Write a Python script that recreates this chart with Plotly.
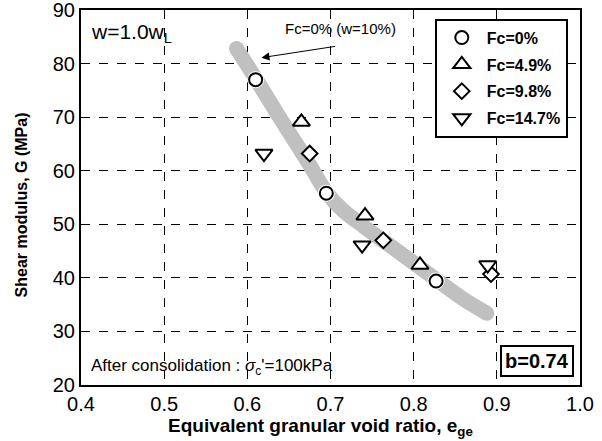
import plotly.graph_objects as go

# Data
fc0_x = [0.610, 0.695, 0.827]
fc0_y = [77.0, 55.8, 39.4]
fc49_x = [0.665, 0.7415, 0.8076]
fc49_y = [69.1, 51.6, 42.4]
fc98_x = [0.675, 0.7635, 0.893]
fc98_y = [63.2, 47.0, 40.7]
fc147_x = [0.620, 0.738, 0.889]
fc147_y = [63.2, 46.1, 42.4]

curve_x = [0.587, 0.610, 0.641, 0.673, 0.695, 0.715, 0.740, 0.770, 0.800, 0.827, 0.860, 0.888]
curve_y = [82.8, 77.2, 69.4, 61.6, 56.0, 52.6, 49.6, 46.2, 42.8, 39.7, 36.0, 33.4]

x_ticks = [0.4, 0.5, 0.6, 0.7, 0.8, 0.9, 1.0]
x_ticktext = ["0.4", "0.5", "0.6", "0.7", "0.8", "0.9", "1.0"]
y_ticks = [20, 30, 40, 50, 60, 70, 80, 90]

GRAY = "#c0c0c0"
FONT = "Liberation Sans, Arial, sans-serif"

fig = go.Figure()

# gray trend band
fig.add_trace(go.Scatter(x=curve_x, y=curve_y, mode="lines",
                         line=dict(color=GRAY, width=15, shape="spline", smoothing=0.8),
                         showlegend=False, hoverinfo="skip"))
fig.add_trace(go.Scatter(x=[curve_x[0], curve_x[-1]], y=[curve_y[0], curve_y[-1]], mode="markers",
                         marker=dict(color=GRAY, size=15, line=dict(width=0)),
                         showlegend=False, hoverinfo="skip"))
# white halo for circles
fig.add_trace(go.Scatter(x=fc0_x, y=fc0_y, mode="markers",
                         marker=dict(color="white", size=17, line=dict(width=0)),
                         showlegend=False, hoverinfo="skip"))

mk_line = dict(color="black", width=2)
series = [
    ("Fc=0%", fc0_x, fc0_y, "circle", 13),
    ("Fc=4.9%", fc49_x, fc49_y, "triangle-up", 15),
    ("Fc=9.8%", fc98_x, fc98_y, "diamond", 12),
    ("Fc=14.7%", fc147_x, fc147_y, "triangle-down", 15),
]
for i, (name, xs, ys, sym, sz) in enumerate(series):
    fig.add_trace(go.Scatter(x=xs, y=ys, mode="markers", name=name,
                             legendgroup=f"g{i}",
                             marker=dict(symbol=sym, size=sz, color="white", line=mk_line)))

fig.add_annotation(x=0.617, y=81.1, ax=0.7074, ay=83.25, xref="x", yref="y",
                   axref="x", ayref="y", showarrow=True, arrowhead=2, arrowsize=1.6,
                   arrowwidth=1, arrowcolor="black", text="")
fig.add_annotation(x=0.712, y=86.6, xref="x", yref="y", showarrow=False,
                   text="Fc=0% (w=10%)", font=dict(family=FONT, size=15, color="black"))
fig.add_annotation(x=0.41, y=85.8, xref="x", yref="y", xanchor="left", showarrow=False,
                   text="w=1.0w<sub>L</sub>", font=dict(family=FONT, size=21, color="black"))
fig.add_annotation(x=0.41, y=23.4, xref="x", yref="y", xanchor="left", showarrow=False,
                   text="After consolidation : <i>σ</i><sub>c</sub>'=100kPa",
                   font=dict(family=FONT, size=17, color="black"))
fig.add_annotation(x=0.9925, y=24.4, xref="x", yref="y", xanchor="right", showarrow=False,
                   text="<b>b=0.74</b>", bordercolor="black", borderwidth=2, borderpad=3,
                   bgcolor="white", font=dict(family=FONT, size=20, color="black"))

# axis titles
fig.add_annotation(x=0.479, y=-0.112, xref="paper", yref="paper", showarrow=False,
                   xanchor="center", yanchor="middle",
                   text="<b>Equivalent granular void ratio, e<sub>ge</sub></b>",
                   font=dict(family=FONT, size=19, color="black"))
fig.add_annotation(x=-0.1202, y=0.479, xref="paper", yref="paper", showarrow=False,
                   xanchor="center", yanchor="middle",
                   textangle=-90, text="<b>Shear modulus, G (MPa)</b>",
                   font=dict(family=FONT, size=16, color="black"))

fig.update_layout(
    width=602, height=441,
    margin=dict(l=81, r=22, t=10, b=56),
    paper_bgcolor="white", plot_bgcolor="white",
    font=dict(family=FONT, color="black"),
    legend=dict(x=0.709, y=0.977, xanchor="left", yanchor="top",
                bordercolor="black", borderwidth=2, bgcolor="white",
                font=dict(family=FONT, size=16, color="black", weight="bold"),
                tracegroupgap=3, itemwidth=40),
    xaxis=dict(range=[0.4, 1.0], tickvals=x_ticks, ticktext=x_ticktext,
               showline=True, linecolor="black", linewidth=2, mirror=True,
               showgrid=True, gridcolor="black", griddash="dash", gridwidth=1,
               ticks="", zeroline=False, automargin=False, ticklabeloverflow="allow",
               tickfont=dict(family=FONT, size=20, color="black")),
    yaxis=dict(range=[20, 90], tickvals=y_ticks,
               showline=True, linecolor="black", linewidth=2, mirror=True,
               showgrid=True, gridcolor="black", griddash="dash", gridwidth=1,
               ticks="", zeroline=False, automargin=False, ticklabeloverflow="allow",
               tickfont=dict(family=FONT, size=20, color="black")),
)

fig.write_html("out.html")
